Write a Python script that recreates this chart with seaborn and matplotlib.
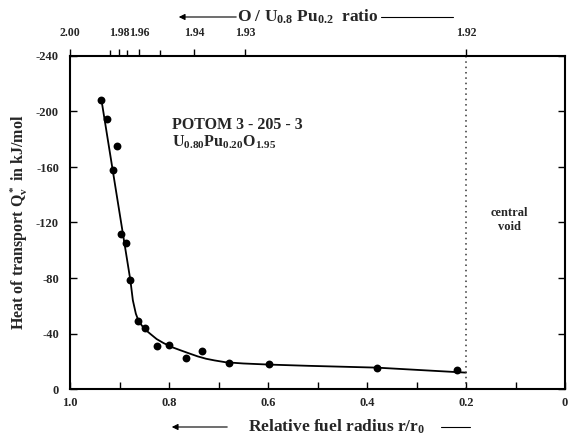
import matplotlib
matplotlib.use("Agg")
import matplotlib.pyplot as plt
import seaborn as sns
import pandas as pd
from matplotlib.lines import Line2D

# ---------------- data ----------------
point_r = [0.937, 0.925, 0.905, 0.913, 0.897, 0.887, 0.878, 0.862, 0.848,
           0.825, 0.801, 0.766, 0.733, 0.678, 0.598, 0.379, 0.218]
point_q = [-208.2, -194.5, -174.8, -157.9, -111.7, -105.0, -78.3, -49.2, -43.9,
           -30.7, -31.9, -22.7, -27.6, -18.9, -17.7, -15.0, -13.4]

curve_r = [0.937, 0.913, 0.878, 0.873, 0.867, 0.862, 0.855, 0.847, 0.838, 0.825,
           0.811, 0.795, 0.776, 0.758, 0.742, 0.725, 0.708, 0.686, 0.65, 0.598,
           0.518, 0.38, 0.20]
curve_q = [-209.5, -156.1, -78.3, -63.9, -54.3, -49.5, -45.8, -42.5, -39.8, -36.0,
           -33.1, -30.3, -27.8, -25.5, -23.5, -21.8, -20.6, -19.3, -18.4, -17.6,
           -16.7, -15.4, -11.8]

x_major = [1.0, 0.8, 0.6, 0.4, 0.2, 0.0]
x_major_labels = ["1.0", "0.8", "0.6", "0.4", "0.2", "0"]
x_minor = [0.9, 0.7, 0.5, 0.3, 0.1]
y_ticks = [0, -40, -80, -120, -160, -200, -240]
y_tick_labels = ["0", "-40", "-80", "-120", "-160", "-200", "-240"]

ou_pos = [1.0, 0.901, 0.86, 0.749, 0.646, 0.2]
ou_labels = ["2.00", "1.98", "1.96", "1.94", "1.93", "1.92"]
ou_minor = [0.92, 0.885, 0.819]

void_r = 0.2

# ---------------- style ----------------
sns.set_theme(style="ticks")
plt.rcParams["font.family"] = ["Liberation Serif", "DejaVu Serif"]
plt.rcParams["font.weight"] = "bold"
plt.rcParams["mathtext.fontset"] = "custom"
plt.rcParams["mathtext.rm"] = "Liberation Serif:bold"
plt.rcParams["mathtext.it"] = "Liberation Serif:italic:bold"
plt.rcParams["mathtext.bf"] = "Liberation Serif:bold"
plt.rcParams["axes.unicode_minus"] = False

fig = plt.figure(figsize=(5.74, 4.36), dpi=100)
ax = fig.add_axes([70 / 574, 1 - 389 / 436, 495 / 574, 333 / 436])

pts = pd.DataFrame({"r": point_r, "q": point_q})
crv = pd.DataFrame({"r": curve_r, "q": curve_q})

sns.lineplot(data=crv, x="r", y="q", sort=False, estimator=None, color="black",
             linewidth=1.3, ax=ax)
sns.scatterplot(data=pts, x="r", y="q", color="black", s=32, edgecolor="black",
                linewidth=0, ax=ax, zorder=3)

ax.axvline(void_r, color="#333333", linestyle=(0, (1, 2.5)), linewidth=1.1)

ax.set_xlim(1.0, 0.0)
ax.set_ylim(0, -240)
ax.set_xticks(x_major)
ax.set_xticklabels(x_major_labels)
ax.set_xticks(x_minor, minor=True)
ax.set_yticks(y_ticks)
ax.set_yticklabels(y_tick_labels)
ax.set_xlabel("")
ax.set_ylabel("Heat of transport Q$^*_\\mathrm{v}$ in kJ/mol", fontsize=11.5,
              fontweight="bold", labelpad=4)

for s in ax.spines.values():
    s.set_linewidth(1.5)
    s.set_color("black")

ax.tick_params(axis="both", which="both", direction="in", top=True, right=True,
               color="black", width=1.0)
ax.tick_params(axis="x", which="major", length=5, labelsize=9, pad=6)
ax.tick_params(axis="x", which="minor", length=5)
ax.tick_params(axis="y", which="major", length=5, labelsize=9, pad=8)
for lab in ax.get_xticklabels() + ax.get_yticklabels():
    lab.set_fontweight("bold")

# top O/U axis
ax2 = ax.twiny()
ax2.set_xlim(ax.get_xlim())
ax2.set_xticks(ou_pos)
ax2.set_xticklabels(ou_labels)
ax2.set_xticks(ou_minor, minor=True)
ax2.tick_params(axis="x", which="major", direction="out", length=5, width=1.0,
                labelsize=8.5, pad=7, color="black")
ax2.tick_params(axis="x", which="minor", direction="out", length=4, width=1.0,
                color="black")
for lab in ax2.get_xticklabels():
    lab.set_fontweight("bold")
for s in ax2.spines.values():
    s.set_visible(False)

# annotations
ax.text(0.794, -190, "POTOM 3 - 205 - 3", fontsize=11.5, fontweight="bold",
        ha="left", va="center")
ax.text(0.794, -178, "U$_{0.80}$Pu$_{0.20}$O$_{1.95}$", fontsize=11.5,
        fontweight="bold", ha="left", va="center")
ax.text(0.112, -122, "central\nvoid", fontsize=9, fontweight="bold",
        ha="center", va="center", linespacing=1.2)

# top title with arrow
fig.text(308 / 574, 1 - 17 / 436, "O / U$_{0.8}$ Pu$_{0.2}$  ratio", fontsize=12.5,
         fontweight="bold", ha="center", va="center")
fig.add_artist(Line2D([381 / 574, 453 / 574], [1 - 17 / 436] * 2, color="black",
                      linewidth=0.8, transform=fig.transFigure))
ax.annotate("", xy=(176 / 574, 1 - 17 / 436), xytext=(239 / 574, 1 - 17 / 436),
            xycoords="figure fraction", textcoords="figure fraction",
            arrowprops=dict(arrowstyle="-|>", color="black", lw=0.8,
                            mutation_scale=9))

# bottom label with arrow
fig.text(337 / 574, 1 - 427 / 436, "Relative fuel radius r/r$_0$", fontsize=12.5,
         fontweight="bold", ha="center", va="center")
fig.add_artist(Line2D([441 / 574, 470 / 574], [1 - 427 / 436] * 2, color="black",
                      linewidth=0.8, transform=fig.transFigure))
ax.annotate("", xy=(169 / 574, 1 - 427 / 436), xytext=(230 / 574, 1 - 427 / 436),
            xycoords="figure fraction", textcoords="figure fraction",
            arrowprops=dict(arrowstyle="-|>", color="black", lw=0.8,
                            mutation_scale=9))

fig.savefig("out.png", dpi=100)
